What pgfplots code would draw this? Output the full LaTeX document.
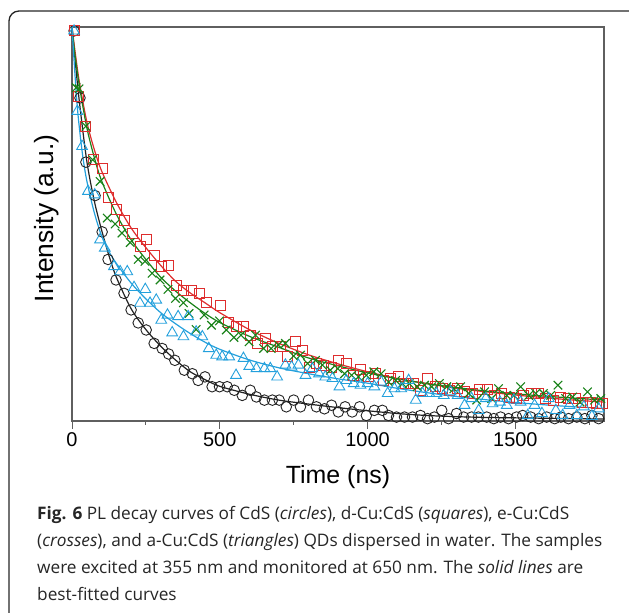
\documentclass[border=0pt]{standalone}
\usepackage{fontspec}
\setmainfont{Liberation Sans}
\newfontfamily\capfont{Open Sans}
\usepackage{pgfplots}
\pgfplotsset{compat=1.18}
\definecolor{cblk}{RGB}{35,35,35}
\definecolor{cred}{RGB}{222,45,45}
\definecolor{cgrn}{RGB}{25,130,25}
\definecolor{cblu}{RGB}{35,160,220}
\definecolor{frame}{RGB}{95,95,95}
\begin{document}
\begin{tikzpicture}[x=1bp,y=1bp]
\path[use as bounding box] (0,0) rectangle (629,613);
\draw[line width=1.3bp, black!85, rounded corners=10bp] (9,-20) -- (9,602) -- (640,602) -- (640,-20);
\begin{axis}[
  at={(72bp,192bp)}, anchor=south west,
  width=532bp, height=394bp, scale only axis,
  xmin=0, xmax=1800, ymin=0, ymax=1,
  axis line style={frame, line width=1.3bp},
  xtick={0,500,1000,1500},
  minor xtick={250,750,1250,1750},
  ytick=\empty,
  xtick pos=lower,
  tick align=outside,
  major tick length=8bp, minor tick length=4bp,
  tick style={frame, line width=1bp},
  /pgf/number format/assume math mode=true,
  /pgf/number format/1000 sep={},
  xticklabel style={font=\fontsize{20}{24}\selectfont, text=black},
  xlabel={Time (ns)},
  xlabel style={at={(axis description cs:0.5,0)}, anchor=center, yshift=-56bp, font=\fontsize{25}{30}\selectfont},
  ylabel={Intensity (a.u.)},
  ylabel style={at={(axis description cs:-0.047,0.514)}, anchor=center, font=\fontsize{26.5}{30}\selectfont},
  clip=false,
]
% CdS circles
\addplot[only marks, mark=o, mark size=5.3bp, cblk, mark options={line width=0.9bp}] coordinates {
(7,0.99)(27,0.82)(47,0.657)(78,0.572)(102,0.48)(122,0.41)(149,0.358)(176,0.324)(200,0.282)(224,0.249)(251,0.231)(278,0.197)(305,0.184)(327,0.17)(348,0.154)(380,0.129)(407,0.12)(427,0.103)(450,0.112)(474,0.087)(499,0.087)(525,0.087)(549,0.078)(576,0.065)(603,0.078)(624,0.061)(651,0.053)(678,0.053)(701,0.053)(725,0.036)(750,0.053)(773,0.036)(800,0.053)(827,0.036)(854,0.031)(878,0.04)(901,0.023)(924,0.036)(948,0.023)(973,0.036)(996,0.014)(1023,0.027)(1050,0.027)(1071,0.014)(1098,0.01)(1125,0.01)(1152,0.01)(1179,0.014)(1203,0.006)(1226,0.01)(1251,0.027)(1274,0.006)(1301,0.019)(1325,0.01)(1352,0.01)(1375,0.01)(1403,0.01)(1427,0.006)(1450,0.01)(1477,0.006)(1504,0.01)(1525,0.014)(1552,0.01)(1579,0.006)(1606,0.01)(1633,0.006)(1654,0.01)(1680,0.006)(1708,0.01)(1735,0.006)(1759,0.014)(1782,0.006)
};
% d-Cu:CdS squares
\addplot[only marks, mark=square, mark size=5bp, cred, mark options={line width=0.9bp}] coordinates {
(7,0.99)(23,0.824)(45,0.748)(74,0.663)(104,0.64)(125,0.567)(152,0.538)(176,0.509)(203,0.477)(230,0.443)(253,0.461)(278,0.419)(302,0.392)(328,0.394)(352,0.345)(377,0.332)(404,0.331)(430,0.324)(454,0.30)(502,0.294)(529,0.249)(556,0.239)(579,0.239)(603,0.218)(628,0.197)(653,0.21)(678,0.188)(705,0.188)(729,0.165)(755,0.201)(779,0.18)(802,0.137)(827,0.146)(851,0.142)(877,0.137)(901,0.154)(928,0.146)(951,0.116)(976,0.131)(1003,0.112)(1027,0.12)(1053,0.103)(1077,0.108)(1104,0.112)(1129,0.095)(1155,0.095)(1179,0.078)(1203,0.108)(1230,0.087)(1254,0.082)(1278,0.078)(1305,0.082)(1328,0.074)(1355,0.07)(1380,0.08)(1404,0.08)(1430,0.065)(1454,0.07)(1480,0.061)(1504,0.057)(1529,0.065)(1554,0.07)(1579,0.07)(1603,0.057)(1630,0.053)(1654,0.061)(1678,0.057)(1704,0.057)(1728,0.048)(1755,0.048)(1776,0.044)(1796,0.044)
};
% e-Cu:CdS crosses
\addplot[only marks, mark=x, mark size=6bp, cgrn, mark options={line width=1.1bp}] coordinates {
(14,0.846)(24,0.843)(47,0.748)(70,0.663)(95,0.608)(119,0.515)(146,0.50)(169,0.477)(197,0.453)(224,0.41)(247,0.405)(271,0.375)(298,0.358)(325,0.334)(350,0.311)(377,0.30)(396,0.273)(420,0.232)(447,0.269)(472,0.243)(499,0.254)(522,0.231)(548,0.212)(572,0.218)(599,0.201)(621,0.218)(648,0.184)(674,0.184)(698,0.193)(722,0.197)(750,0.165)(773,0.167)(797,0.146)(824,0.154)(847,0.142)(874,0.129)(899,0.133)(922,0.12)(946,0.116)(969,0.112)(996,0.116)(1021,0.125)(1046,0.12)(1071,0.099)(1095,0.103)(1118,0.095)(1141,0.095)(1168,0.087)(1193,0.091)(1217,0.087)(1243,0.095)(1268,0.087)(1292,0.082)(1315,0.087)(1342,0.07)(1369,0.053)(1396,0.074)(1420,0.057)(1443,0.082)(1471,0.065)(1495,0.065)(1518,0.087)(1545,0.065)(1569,0.07)(1595,0.07)(1620,0.065)(1644,0.091)(1670,0.057)(1694,0.061)(1719,0.048)(1744,0.074)(1768,0.053)(1789,0.057)
};
% a-Cu:CdS triangles
\addplot[only marks, mark=triangle, mark size=6.2bp, cblu, mark options={line width=0.9bp}] coordinates {
(7,0.99)(18,0.786)(34,0.697)(54,0.583)(77,0.574)(95,0.46)(111,0.439)(142,0.392)(163,0.379)(187,0.379)(210,0.339)(230,0.299)(248,0.334)(264,0.299)(285,0.307)(302,0.256)(323,0.269)(339,0.224)(359,0.265)(377,0.214)(393,0.265)(420,0.226)(441,0.214)(463,0.184)(488,0.167)(508,0.163)(532,0.163)(555,0.116)(580,0.159)(600,0.139)(624,0.133)(651,0.133)(671,0.133)(694,0.112)(722,0.142)(743,0.137)(766,0.142)(790,0.116)(813,0.133)(836,0.12)(857,0.112)(881,0.108)(905,0.087)(928,0.103)(953,0.095)(976,0.091)(1000,0.095)(1023,0.087)(1046,0.099)(1068,0.07)(1091,0.082)(1114,0.082)(1139,0.103)(1163,0.053)(1186,0.07)(1209,0.07)(1233,0.07)(1258,0.065)(1281,0.074)(1305,0.065)(1328,0.04)(1352,0.057)(1376,0.027)(1400,0.057)(1423,0.044)(1448,0.048)(1471,0.04)(1495,0.053)(1518,0.048)(1542,0.014)(1565,0.04)(1590,0.019)(1613,0.057)(1637,0.027)(1660,0.014)(1683,0.04)(1708,0.014)(1732,0.036)(1759,0.012)(1782,0.031)
};
% fits
\addplot[cblk, line width=1.2bp, smooth, tension=0.5] coordinates {
(0,1.0)(10,0.92)(25,0.81)(50,0.66)(75,0.56)(100,0.485)(125,0.42)(150,0.365)(200,0.285)(250,0.232)(300,0.19)(350,0.155)(400,0.125)(450,0.105)(500,0.088)(600,0.068)(700,0.053)(800,0.043)(900,0.034)(1000,0.026)(1100,0.019)(1200,0.014)(1300,0.011)(1400,0.009)(1500,0.008)(1600,0.007)(1700,0.006)(1800,0.005)
};
\addplot[cred, line width=1.2bp, smooth, tension=0.5] coordinates {
(0,1.0)(10,0.94)(25,0.86)(50,0.76)(75,0.69)(100,0.635)(150,0.555)(200,0.49)(250,0.44)(300,0.395)(350,0.355)(400,0.325)(450,0.30)(500,0.275)(600,0.232)(700,0.197)(800,0.168)(900,0.145)(1000,0.125)(1100,0.108)(1200,0.095)(1300,0.083)(1400,0.074)(1500,0.066)(1600,0.059)(1700,0.053)(1800,0.048)
};
\addplot[cgrn, line width=1.2bp, smooth, tension=0.5] coordinates {
(0,1.0)(10,0.93)(25,0.85)(50,0.745)(75,0.67)(100,0.61)(150,0.525)(200,0.46)(250,0.41)(300,0.365)(350,0.33)(400,0.30)(450,0.273)(500,0.25)(600,0.215)(700,0.187)(800,0.16)(900,0.14)(1000,0.122)(1100,0.107)(1200,0.095)(1300,0.085)(1400,0.076)(1500,0.069)(1600,0.063)(1700,0.058)(1800,0.053)
};
\addplot[cblu, line width=1.2bp, smooth, tension=0.5] coordinates {
(0,1.0)(10,0.88)(20,0.78)(35,0.68)(50,0.61)(75,0.53)(100,0.47)(125,0.43)(150,0.40)(200,0.35)(250,0.31)(300,0.275)(350,0.247)(400,0.222)(450,0.20)(500,0.182)(600,0.155)(700,0.135)(800,0.12)(900,0.107)(1000,0.096)(1100,0.083)(1200,0.072)(1300,0.062)(1400,0.054)(1500,0.047)(1600,0.041)(1700,0.036)(1800,0.032)
};
\end{axis}
\begin{scope}[every node/.style={anchor=base west, inner sep=0pt, font=\capfont\fontsize{17.3}{27}\selectfont, text=black!85}]
\node at (37,613-520) {\textbf{Fig. 6} PL decay curves of CdS (\textit{circles}), d-Cu:CdS (\textit{squares}), e-Cu:CdS};
\node at (37,613-547) {(\textit{crosses}), and a-Cu:CdS (\textit{triangles}) QDs dispersed in water. The samples};
\node at (37,613-574) {were excited at 355 nm and monitored at 650 nm. The \textit{solid lines} are};
\node at (37,613-601) {best-fitted curves};
\end{scope}
\end{tikzpicture}
\end{document}
